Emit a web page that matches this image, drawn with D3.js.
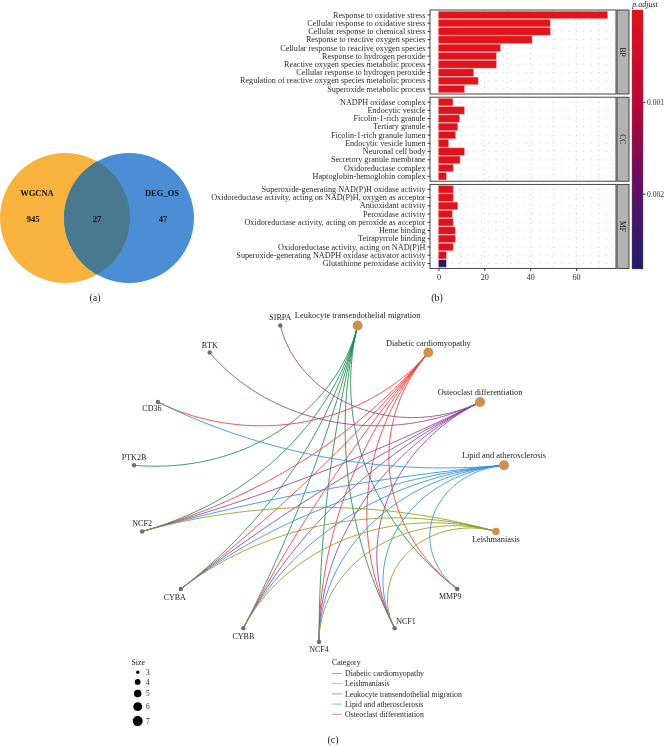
<!DOCTYPE html>
<html>
<head>
<meta charset="utf-8">
<script src="https://cdn.jsdelivr.net/npm/d3@7"></script>
<style>
  body { margin: 0; background: #fff; }
  #wrap { will-change: transform; width: 667px; height: 746px; }
  svg { display: block; }
  text { font-family: "Liberation Serif", "DejaVu Serif", serif; fill: #222; }
</style>
</head>
<body>
<div id="wrap"><svg id="fig" width="667" height="746"></svg></div>
<script>
// ---------- data ----------
// venn (a)
const vennSets = ["WGCNA", "DEG_OS"];
const vennCounts = [945, 27, 47]; // only WGCNA, shared, only DEG_OS

// GO enrichment (b)
const panelNames = ["BP", "CC", "MF"];
const bpTerms = ["Response to oxidative stress", "Cellular response to oxidative stress", "Cellular response to chemical stress",
  "Response to reactive oxygen species", "Cellular response to reactive oxygen species", "Response to hydrogen peroxide",
  "Reactive oxygen species metabolic process", "Cellular response to hydrogen peroxide",
  "Regulation of reactive oxygen species metabolic process", "Superoxide metabolic process"];
const bpValues = [73.7, 48.7, 48.7, 40.8, 27.0, 25.2, 25.2, 15.3, 17.3, 11.3];
const bpPadj = [1e-9, 2e-8, 2e-8, 5e-8, 1e-6, 2e-6, 2e-6, 1e-5, 8e-6, 3e-5];

const ccTerms = ["NADPH oxidase complex", "Endocytic vesicle", "Ficolin-1-rich granule", "Tertiary granule",
  "Ficolin-1-rich granule lumen", "Endocytic vesicle lumen", "Neuronal cell body", "Secretory granule membrane",
  "Oxidoreductase complex", "Haptoglobin-hemoglobin complex"];
const ccValues = [6.3, 11.3, 9.1, 8.4, 7.4, 4.4, 11.3, 9.4, 6.4, 3.4];
const ccPadj = [4e-5, 5e-5, 6e-5, 6e-5, 7e-5, 8e-5, 8e-5, 9e-5, 1e-4, 1.2e-4];

const mfTerms = ["Superoxide-generating NAD(P)H oxidase activity", "Oxidoreductase activity, acting on NAD(P)H, oxygen as acceptor",
  "Antioxidant activity", "Peroxidase activity", "Oxidoreductase activity, acting on peroxide as acceptor", "Heme binding",
  "Tetrapyrrole binding", "Oxidoreductase activity, acting on NAD(P)H", "Superoxide-generating NADPH oxidase activator activity",
  "Glutathione peroxidase activity"];
const mfValues = [6.4, 6.4, 8.4, 6.0, 6.4, 7.3, 7.3, 6.4, 3.4, 3.4];
const mfPadj = [5e-5, 6e-5, 7e-5, 8e-5, 9e-5, 1e-4, 1.1e-4, 1.3e-4, 2e-4, 0.00282];

const xTicks = [0, 20, 40, 60];
const padjTicks = [0.001, 0.002];

// KEGG network (c)
const categories = ["Leukocyte transendothelial migration", "Diabetic cardiomyopathy", "Osteoclast differentiation",
  "Lipid and atherosclerosis", "Leishmaniasis"];
const genes = ["MMP9", "NCF1", "NCF4", "CYBB", "CYBA", "NCF2", "PTK2B", "CD36", "BTK", "SIRPA"];
const categoryGenes = [
  ["MMP9", "NCF1", "NCF4", "CYBB", "CYBA", "NCF2", "PTK2B"],
  ["MMP9", "NCF1", "NCF4", "CYBB", "CYBA", "NCF2", "CD36"],
  ["NCF1", "NCF4", "CYBB", "CYBA", "NCF2", "BTK", "SIRPA"],
  ["MMP9", "NCF1", "NCF4", "CYBB", "CYBA", "NCF2", "CD36"],
  ["NCF1", "NCF4", "CYBB", "CYBA", "NCF2"]
];
const legendCategories = ["Diabetic cardiomyopathy", "Leishmaniasis", "Leukocyte transendothelial migration",
  "Lipid and atherosclerosis", "Osteoclast differentiation"];
const sizeBreaks = [3, 4, 5, 6, 7];

// ---------- drawing ----------
const svg = d3.select("#fig");

// (a) venn
const venn = svg.append("g");
const vc = [{x: 65, y: 218}, {x: 129, y: 218}];
const vr = 65;
venn.append("clipPath").attr("id", "leftClip")
  .append("circle").attr("cx", vc[0].x).attr("cy", vc[0].y).attr("r", vr);
venn.append("circle").attr("cx", vc[0].x).attr("cy", vc[0].y).attr("r", vr).attr("fill", "#F8B33F");
venn.append("circle").attr("cx", vc[1].x).attr("cy", vc[1].y).attr("r", vr).attr("fill", "#4B8ED5");
venn.append("circle").attr("cx", vc[1].x).attr("cy", vc[1].y).attr("r", vr)
  .attr("fill", "#48798E").attr("clip-path", "url(#leftClip)");
const vennText = (s, x, y) => venn.append("text").attr("x", x).attr("y", y).attr("text-anchor", "middle")
  .attr("font-size", 8.5).attr("font-weight", "bold").style("fill", "#111").text(s);
vennText(vennSets[0], 37, 196);
vennText(vennSets[1], 162, 196);
vennText(vennCounts[0], 33, 222);
vennText(vennCounts[1], 97, 222);
vennText(vennCounts[2], 163, 222);
svg.append("text").attr("x", 95).attr("y", 301).attr("text-anchor", "middle").attr("font-size", 10).text("(a)");

// (b) GO bars
const go = svg.append("g");
const panels = [
  {terms: bpTerms, values: bpValues, padj: bpPadj},
  {terms: ccTerms, values: ccValues, padj: ccPadj},
  {terms: mfTerms, values: mfValues, padj: mfPadj}
];
const allValues = [...bpValues, ...ccValues, ...mfValues];
const allPadj = [...bpPadj, ...ccPadj, ...mfPadj];
const vmax = d3.max(allValues);
const x = d3.scaleLinear().domain([-0.05 * vmax, 1.05 * vmax]).range([430, 616]);
const pmax = d3.max(allPadj);
const color = d3.scaleLinear()
  .domain([0, pmax * 0.36, pmax * 0.71, pmax])
  .range(["#E3121B", "#BC0538", "#5B1166", "#1D1E6C"]);

const panelH = 84, panelGap = 3.2, panelTop = 10;
panels.forEach((p, k) => {
  const top = panelTop + k * (panelH + panelGap);
  const y = d3.scaleBand().domain(p.terms).range([top, top + panelH]).paddingInner(0.1).paddingOuter(0.15);
  const g = go.append("g");
  // dotted grid
  d3.range(0, 80, 10).forEach(v => {
    g.append("line").attr("x1", x(v)).attr("x2", x(v)).attr("y1", top).attr("y2", top + panelH)
      .attr("stroke", "#9a9a9a").attr("stroke-width", 0.6).attr("stroke-dasharray", "0.8,4");
  });
  p.terms.forEach(t => {
    const yy = y(t) + y.bandwidth() / 2;
    g.append("line").attr("x1", 430).attr("x2", 616).attr("y1", yy).attr("y2", yy)
      .attr("stroke", "#9a9a9a").attr("stroke-width", 0.6).attr("stroke-dasharray", "0.8,6.5");
  });
  g.selectAll("rect.bar").data(p.terms).join("rect").attr("class", "bar")
    .attr("x", x(0)).attr("y", t => y(t))
    .attr("width", (t, i) => x(p.values[i]) - x(0)).attr("height", y.bandwidth())
    .attr("fill", (t, i) => color(p.padj[i]))
    .attr("stroke", "#F39A9A").attr("stroke-width", 0.5);
  g.append("rect").attr("x", 430).attr("y", top).attr("width", 186).attr("height", panelH)
    .attr("fill", "none").attr("stroke", "#333").attr("stroke-width", 0.9);
  // strip
  g.append("rect").attr("x", 617).attr("y", top).attr("width", 12).attr("height", panelH)
    .attr("fill", "#B3B3B3").attr("stroke", "#333").attr("stroke-width", 0.9);
  g.append("text").attr("transform", `translate(623,${top + panelH / 2}) rotate(90)`)
    .attr("text-anchor", "middle").attr("dy", "0.35em").attr("font-size", 7.5).style("fill", "#1a1a1a")
    .text(panelNames[k]);
  // y axis
  const ya = g.append("g").attr("transform", "translate(430,0)")
    .call(d3.axisLeft(y).tickSize(2.5).tickPadding(2));
  ya.select(".domain").remove();
  ya.selectAll("line").attr("stroke", "#333");
  ya.selectAll("text").attr("font-size", 8.2).style("font-family", "'Liberation Serif', serif").style("fill", "#2a2a2a");
  if (k === panels.length - 1) {
    const xa = g.append("g").attr("transform", `translate(0,${top + panelH})`)
      .call(d3.axisBottom(x).tickValues(xTicks).tickSize(2.5).tickPadding(3));
    xa.select(".domain").remove();
    xa.selectAll("line").attr("stroke", "#333");
    xa.selectAll("text").attr("font-size", 8.2).style("font-family", "'Liberation Serif', serif").style("fill", "#2a2a2a");
  }
});

// colorbar
const cbTop = 10, cbBot = 269;
const yc = d3.scaleLinear().domain([0, pmax]).range([cbTop, cbBot]);
const grad = svg.append("defs").append("linearGradient").attr("id", "cbGrad")
  .attr("x1", 0).attr("x2", 0).attr("y1", 0).attr("y2", 1);
d3.range(0, 1.001, 0.05).forEach(f => {
  grad.append("stop").attr("offset", f).attr("stop-color", color(f * pmax));
});
svg.append("rect").attr("x", 632).attr("y", cbTop).attr("width", 11).attr("height", cbBot - cbTop)
  .attr("fill", "url(#cbGrad)").attr("stroke", "#555").attr("stroke-width", 0.4);
const ca = svg.append("g").attr("transform", "translate(643,0)")
  .call(d3.axisRight(yc).tickValues(padjTicks).tickFormat(d3.format(".3f")).tickSize(2.5).tickPadding(1.5));
ca.select(".domain").remove();
ca.selectAll("line").attr("stroke", "#333");
ca.selectAll("text").attr("font-size", 7.6).style("font-family", "'Liberation Serif', serif").style("fill", "#2a2a2a");
svg.append("text").attr("x", 645).attr("y", 7).attr("text-anchor", "middle").attr("font-size", 8)
  .attr("font-style", "italic").text("p.adjust");
svg.append("text").attr("x", 437).attr("y", 301).attr("text-anchor", "middle").attr("font-size", 10).text("(b)");

// (c) network: nodes on a circle, edges drawn as arcs bending toward the centre
const net = svg.append("g");
const catColor = d3.scaleOrdinal().domain(legendCategories)
  .range(["#EE3B36", "#939A1F", "#1E8C4C", "#2C8FE4", "#904199"]);
const nodes = [
  ...categories.map((c, i) => ({name: c, type: "cat", size: categoryGenes[i].length})),
  ...genes.map(g => ({name: g, type: "gene"}))
];
const nx = d3.scaleLinear().domain([-1, 1]).range([133, 505]);
const ny = d3.scaleLinear().domain([-1, 1]).range([322, 642]);
const angle = d3.scaleLinear().domain([0, nodes.length]).range([-78, 282]);
nodes.forEach((n, i) => {
  n.a = angle(i) * Math.PI / 180;
  n.ux = Math.cos(n.a);
  n.uy = Math.sin(n.a);
  n.x = nx(n.ux);
  n.y = ny(n.uy);
});
const byName = new Map(nodes.map(n => [n.name, n]));
const rSize = d3.scaleRadial().domain([3, 7]).range([1.7, 5]);
const edgeLine = d3.line().x(d => nx(d[0])).y(d => ny(d[1]));

function arcPoints(a, b) {
  let d = Math.abs(b.a - a.a) % (2 * Math.PI);
  if (d > Math.PI) d = 2 * Math.PI - d;
  const c = Math.cos(d / 2);
  if (c < 1e-3) return [[a.ux, a.uy], [b.ux, b.uy]];
  const mx = (a.ux + b.ux) / 2, my = (a.uy + b.uy) / 2;
  const ml = Math.hypot(mx, my);
  const ox = mx / ml / c, oy = my / ml / c, R = Math.tan(d / 2);
  const t0 = Math.atan2(a.uy - oy, a.ux - ox);
  let t1 = Math.atan2(b.uy - oy, b.ux - ox);
  let dt = t1 - t0;
  if (dt > Math.PI) dt -= 2 * Math.PI;
  if (dt < -Math.PI) dt += 2 * Math.PI;
  return d3.range(0, 1.0001, 1 / 40).map(f => [ox + R * Math.cos(t0 + dt * f), oy + R * Math.sin(t0 + dt * f)]);
}

categories.forEach((c, i) => {
  const a = byName.get(c);
  categoryGenes[i].forEach(gname => {
    const b = byName.get(gname);
    net.append("path").attr("d", edgeLine(arcPoints(a, b))).attr("fill", "none")
      .attr("stroke", catColor(c)).attr("stroke-width", 1).attr("stroke-opacity", 0.85);
  });
});

nodes.forEach(n => {
  if (n.type === "cat") {
    net.append("circle").attr("cx", n.x).attr("cy", n.y).attr("r", rSize(n.size)).attr("fill", "#CF914D");
  } else {
    net.append("circle").attr("cx", n.x).attr("cy", n.y).attr("r", 2.2).attr("fill", "#6F6F6F");
  }
});

// label placement: [dx, dy, anchor]
const labelPlace = {
  "Leishmaniasis": [0, 11, "middle"],
  "CD36": [-6, 9, "middle"],
  "CYBA": [-6, 10.5, "middle"],
  "CYBB": [0, 10.5, "middle"],
  "NCF4": [0, 9.5, "middle"],
  "NCF1": [1.5, -4, "start"],
  "MMP9": [-7, 9.5, "middle"]
};
nodes.forEach(n => {
  const pl = labelPlace[n.name] || [0, n.type === "cat" ? -7 : -5, "middle"];
  net.append("text").attr("x", n.x + pl[0]).attr("y", n.y + pl[1]).attr("text-anchor", pl[2])
    .attr("font-size", n.type === "cat" ? 8.4 : 8).style("fill", "#1a1a1a").text(n.name);
});

// size legend
const sl = svg.append("g");
sl.append("text").attr("x", 131.5).attr("y", 665).attr("font-size", 7.8).text("Size");
let ky = 672.3;
sizeBreaks.forEach((s, i) => {
  if (i > 0) ky += (rSize(sizeBreaks[i - 1]) + rSize(s)) + 5;
  sl.append("circle").attr("cx", 137.7).attr("cy", ky).attr("r", rSize(s)).attr("fill", "#000");
  sl.append("text").attr("x", 146).attr("y", ky).attr("dy", "0.35em").attr("font-size", 7.5).text(s);
});

// category legend
const cl = svg.append("g");
cl.append("text").attr("x", 332).attr("y", 665).attr("font-size", 7.8).text("Category");
legendCategories.forEach((c, i) => {
  const yy = 673.5 + i * 10.2;
  cl.append("line").attr("x1", 332).attr("x2", 342).attr("y1", yy).attr("y2", yy)
    .attr("stroke", catColor(c)).attr("stroke-width", 1).attr("stroke-opacity", 0.6);
  cl.append("text").attr("x", 345).attr("y", yy).attr("dy", "0.35em").attr("font-size", 7.8).text(c);
});
svg.append("text").attr("x", 333).attr("y", 743).attr("text-anchor", "middle").attr("font-size", 10).text("(c)");
</script>
</body>
</html>
